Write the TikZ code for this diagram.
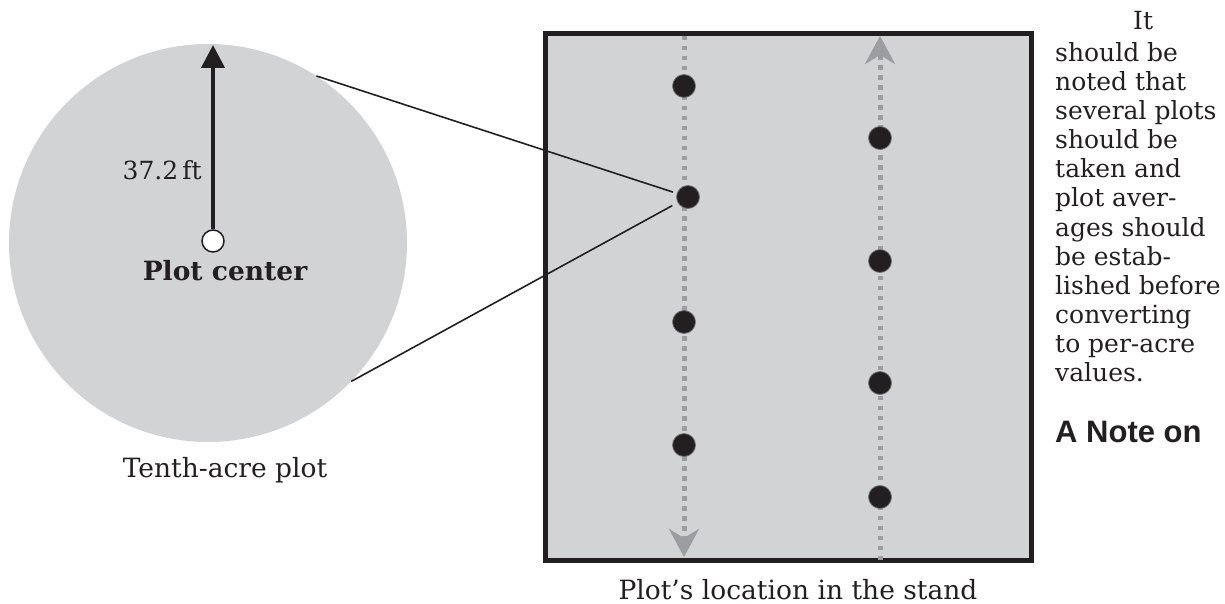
\documentclass[tikz,border=0pt]{standalone}
\usepackage{fontspec}
\setmainfont{DejaVu Serif}
\newfontfamily\notefont{Liberation Sans}
\usetikzlibrary{arrows.meta}
\definecolor{plotgray}{RGB}{209,211,212}
\definecolor{trailgray}{RGB}{155,157,160}
\definecolor{inkblack}{RGB}{35,31,32}
\tikzset{
  body/.style={font=\fontsize{25pt}{29pt}\selectfont, inner sep=0pt, text=inkblack},
  label/.style={font=\fontsize{26.5pt}{30pt}\selectfont, inner sep=0pt, text=inkblack},
  plotdot/.style={circle, fill=inkblack, draw=black!55, line width=0.8pt, minimum size=23pt, inner sep=0pt},
  trail/.style={draw=trailgray, line width=5pt, dash pattern=on 4.5pt off 5.5pt},
  trailtip/.style={-{Stealth[length=28pt, width=30pt, inset=9pt, fill=trailgray, color=trailgray]}},
  linkline/.style={draw=inkblack, line width=1.6pt},
}
\begin{document}
\begin{tikzpicture}[x=1pt, y=-1pt]
\useasboundingbox (0,0) rectangle (1225,604);
% plot circle
\node[circle, fill=plotgray, minimum size=398pt, inner sep=0pt] (plotcirc) at (208,243) {};
\coordinate (radtip) at (213,45);
\node[circle, fill=white, draw=inkblack, line width=1.5pt, minimum size=22pt, inner sep=0pt] (pc) at (213,241) {};
\draw[inkblack, line width=4.2pt, -{Triangle[length=23pt, width=23pt]}] (pc.north) -- (radtip);
\node[body, anchor=base east] (radlab) at (202,180) {37.2\,ft};
\node[body, font=\fontsize{26.5pt}{30pt}\selectfont\bfseries, anchor=base] (pclab) at (225,280) {Plot center};
\node[label, anchor=base] (circlab) at (225,477) {Tenth-acre plot};
% stand
\node[draw=inkblack, fill=plotgray, line width=5pt, minimum width=486pt, minimum height=527pt, inner sep=0pt] (stand) at (788.5,297) {};
\coordinate (ltop) at (684,36);
\coordinate (lbot) at (684,557);
\coordinate (rbot) at (880,560);
\coordinate (rtop) at (880,36);
\draw[trail, trailtip] (ltop) -- (lbot);
\draw[trail, trailtip] (rbot) -- (rtop);
\node[plotdot] (a1) at (684,86) {};
\node[plotdot] (a2) at (688,197) {};
\node[plotdot] (a3) at (684,322) {};
\node[plotdot] (a4) at (684,445) {};
\node[plotdot] (b1) at (880,138) {};
\node[plotdot] (b2) at (880,261) {};
\node[plotdot] (b3) at (880,383) {};
\node[plotdot] (b4) at (880,497) {};
\draw[linkline, shorten >=4pt] (plotcirc.57.8) -- (a2);
\draw[linkline, shorten >=6pt] (plotcirc.-44) -- (a2);
\node[label, anchor=base] (standlab) at (798,599) {Plot’s location in the stand};
% text column
\node[body, anchor=base west] (t0) at (1133,30) {It};
\foreach \txt [count=\i from 1] in {should be, noted that, several plots, should be, taken and, plot aver-, ages should, be estab-, lished before, converting, to per-acre, values.}{
  \node[body, anchor=base west] (t\i) at (1055,{62+29*(\i-1)}) {\txt};
}
\node[body, font=\notefont\bfseries\fontsize{31pt}{35pt}\selectfont, anchor=base west] (note) at (1055,442) {A Note on};
\end{tikzpicture}
\end{document}
